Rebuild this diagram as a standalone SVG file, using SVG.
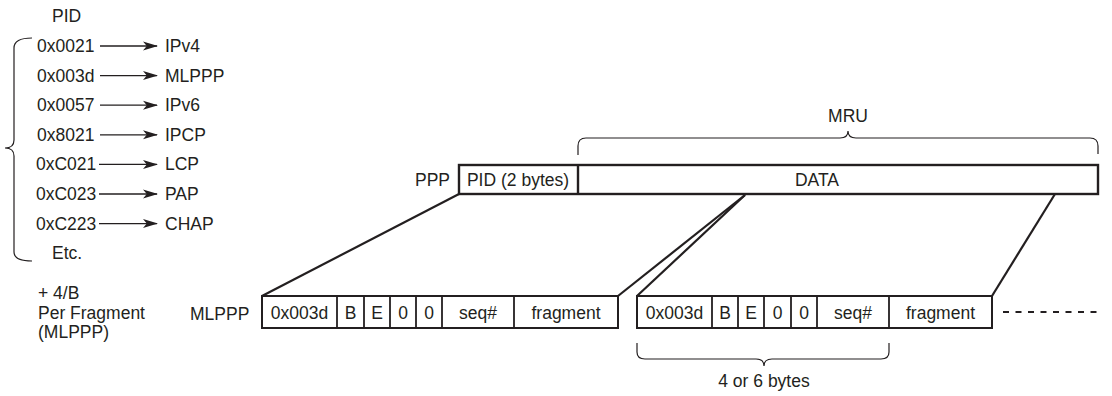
<svg xmlns="http://www.w3.org/2000/svg" width="1112" height="396" viewBox="0 0 1112 396">
  <style>
    text { font-family: "Liberation Sans", Arial, sans-serif; font-size: 17.5px; fill: #231f20; }
    .mid { text-anchor: middle; }
    .end { text-anchor: end; }
    .box { fill: #ffffff; stroke: #231f20; stroke-width: 2; }
    .div { stroke: #231f20; stroke-width: 1.8; }
    .thick { fill: none; stroke: #231f20; stroke-width: 2.2; }
    .thin { fill: none; stroke: #231f20; stroke-width: 1.2; }
    .arr { fill: none; stroke: #231f20; stroke-width: 1.3; marker-end: url(#head); }
  </style>
  <defs>
    <marker id="head" viewBox="0 0 15 10" refX="14" refY="5" markerWidth="15" markerHeight="10" markerUnits="userSpaceOnUse" orient="auto">
      <path d="M0,0.5 L15,5 L0,9.5 L3.8,5 Z" fill="#231f20"/>
    </marker>
  </defs>

  <!-- PID table -->
  <g id="pid-table">
    <text x="52" y="22">PID</text>
    <path class="thin" d="M32,38 Q14,38 14,48 L14,140 Q14,148 5,148 Q14,148 14,156 L14,252 Q14,261 32,261"/>
    <text x="37" y="52">0x0021</text>
    <text x="37" y="81.6">0x003d</text>
    <text x="37" y="111.2">0x0057</text>
    <text x="37" y="140.8">0x8021</text>
    <text x="36" y="170.4">0xC021</text>
    <text x="36" y="200">0xC023</text>
    <text x="36" y="229.6">0xC223</text>
    <text x="52" y="259.2">Etc.</text>
    <path class="arr" d="M100,46 H157"/>
    <path class="arr" d="M100,75.6 H157"/>
    <path class="arr" d="M100,105.2 H157"/>
    <path class="arr" d="M100,134.8 H157"/>
    <path class="arr" d="M99,164.4 H157"/>
    <path class="arr" d="M99,194 H157"/>
    <path class="arr" d="M99,223.6 H157"/>
    <text x="165" y="52">IPv4</text>
    <text x="165" y="81.6">MLPPP</text>
    <text x="165" y="111.2">IPv6</text>
    <text x="165" y="140.8">IPCP</text>
    <text x="165" y="170.4">LCP</text>
    <text x="165" y="200">PAP</text>
    <text x="165" y="229.6">CHAP</text>
  </g>

  <!-- Overhead note -->
  <g id="overhead-note">
    <text x="38" y="299">+ 4/B</text>
    <text x="38" y="318.5">Per Fragment</text>
    <text x="38" y="338">(MLPPP)</text>
  </g>

  <!-- PPP frame -->
  <g id="ppp-frame">
    <text class="end" x="450" y="186">PPP</text>
    <rect class="box" x="459" y="165" width="639" height="29" style="stroke-width:2.4"/>
    <line class="div" x1="578" y1="165" x2="578" y2="194" style="stroke-width:2.4"/>
    <text class="mid" x="518" y="186">PID (2 bytes)</text>
    <text class="mid" x="817" y="186">DATA</text>
  </g>

  <!-- MRU brace -->
  <g id="mru">
    <path class="thin" d="M578,155 L578,146 Q578,138 586,138 L840,138 Q848,138 848,131 Q848,138 856,138 L1090,138 Q1098,138 1098,146 L1098,154"/>
    <text class="mid" x="848" y="122">MRU</text>
  </g>

  <!-- MLPPP fragment 1 -->
  <g id="mlppp-fragment-1">
    <text x="190" y="320">MLPPP</text>
    <rect class="box" x="262" y="296" width="356" height="32"/>
    <line class="div" x1="337" y1="296" x2="337" y2="328"/>
    <line class="div" x1="364" y1="296" x2="364" y2="328"/>
    <line class="div" x1="390" y1="296" x2="390" y2="328"/>
    <line class="div" x1="416" y1="296" x2="416" y2="328"/>
    <line class="div" x1="442" y1="296" x2="442" y2="328"/>
    <line class="div" x1="514" y1="296" x2="514" y2="328"/>
    <text class="mid" x="299.5" y="319">0x003d</text>
    <text class="mid" x="350.5" y="319">B</text>
    <text class="mid" x="377" y="319">E</text>
    <text class="mid" x="403" y="319">0</text>
    <text class="mid" x="429" y="319">0</text>
    <text class="mid" x="478" y="319">seq#</text>
    <text class="mid" x="566" y="319">fragment</text>
  </g>

  <!-- MLPPP fragment 2 -->
  <g id="mlppp-fragment-2">
    <rect class="box" x="637" y="296" width="355" height="32"/>
    <line class="div" x1="712" y1="296" x2="712" y2="328"/>
    <line class="div" x1="738" y1="296" x2="738" y2="328"/>
    <line class="div" x1="764" y1="296" x2="764" y2="328"/>
    <line class="div" x1="791" y1="296" x2="791" y2="328"/>
    <line class="div" x1="817" y1="296" x2="817" y2="328"/>
    <line class="div" x1="889" y1="296" x2="889" y2="328"/>
    <text class="mid" x="674.5" y="319">0x003d</text>
    <text class="mid" x="725" y="319">B</text>
    <text class="mid" x="751" y="319">E</text>
    <text class="mid" x="777.5" y="319">0</text>
    <text class="mid" x="804" y="319">0</text>
    <text class="mid" x="853" y="319">seq#</text>
    <text class="mid" x="940.5" y="319">fragment</text>
  </g>

  <!-- Header size brace -->
  <g id="header-size">
    <path class="thin" d="M637,343 L637,352 Q637,359 645,359 L756,359 Q764,359 764,366 Q764,359 772,359 L881,359 Q889,359 889,352 L889,343"/>
    <text class="mid" x="764" y="387">4 or 6 bytes</text>
  </g>

  <!-- Connectors -->
  <g id="connectors">
    <line class="thick" x1="459" y1="194" x2="262" y2="296"/>
    <line class="thick" x1="745" y1="195" x2="618" y2="296"/>
    <line class="thick" x1="745" y1="195" x2="637" y2="296"/>
    <line class="thick" x1="1055" y1="194" x2="992" y2="296"/>
    <line class="thick" x1="1003" y1="312" x2="1100" y2="312" stroke-dasharray="6,6.5"/>
  </g>
</svg>
